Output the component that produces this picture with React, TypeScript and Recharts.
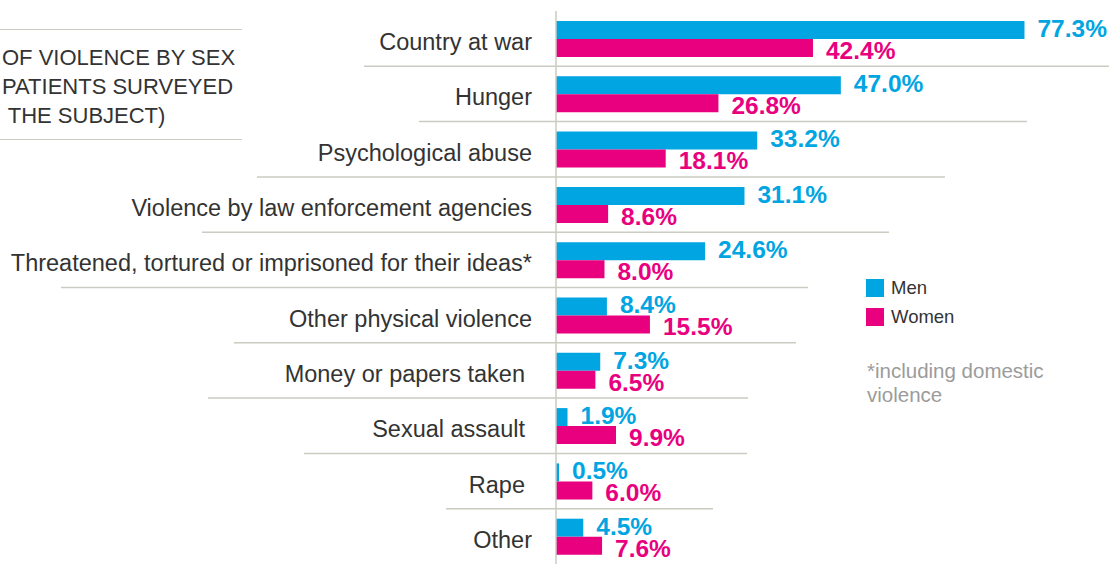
import { BarChart, Bar, XAxis, YAxis, LabelList, Legend } from 'recharts';

const categories = [
  'Country at war',
  'Hunger',
  'Psychological abuse',
  'Violence by law enforcement agencies',
  'Threatened, tortured or imprisoned for their ideas*',
  'Other physical violence',
  'Money or papers taken',
  'Sexual assault',
  'Rape',
  'Other',
];
const menValues = [77.3, 47.0, 33.2, 31.1, 24.6, 8.4, 7.3, 1.9, 0.5, 4.5];
const womenValues = [42.4, 26.8, 18.1, 8.6, 8.0, 15.5, 6.5, 9.9, 6.0, 7.6];
const seriesNames = ['Men', 'Women'];
const titleLines = ['OF VIOLENCE BY SEX', 'PATIENTS SURVEYED', ' THE SUBJECT)'];
const footnoteLines = ['*including domestic', 'violence'];

const chartData = categories.map((name, i) => ({
  name,
  Men: menValues[i],
  Women: womenValues[i],
}));

const BLUE = '#00a5e2';
const PINK = '#e9007f';
const RULE = '#cbcbc1';
const TEXT = '#333333';
const FONT = '"Liberation Sans", Arial, sans-serif';
const colors: Record<string, string> = { Men: BLUE, Women: PINK };
// small vertical nudge of the value labels against their bar
const labelShift: Record<string, number> = { Men: -2, Women: 2 };

// label right edge and the decorative rule under each row (page px)
const rowStyle = [
  { labelEnd: 532, rule: [364, 1109] },
  { labelEnd: 532, rule: [419, 1027] },
  { labelEnd: 532, rule: [257, 945] },
  { labelEnd: 532, rule: [202, 889] },
  { labelEnd: 532, rule: [61, 808] },
  { labelEnd: 532, rule: [234, 796] },
  { labelEnd: 525, rule: [208, 748] },
  { labelEnd: 525, rule: [304, 747] },
  { labelEnd: 525, rule: [446, 713] },
  { labelEnd: 532, rule: null },
];

function CategoryTick(props: any) {
  const { y, payload } = props;
  const idx = categories.indexOf(payload.value);
  const row = rowStyle[idx] || rowStyle[0];
  const half = payload.offset || 27.65;
  return (
    <g>
      <text
        x={row.labelEnd}
        y={y + 3}
        dy="0.36em"
        textAnchor="end"
        fill={TEXT}
        fontSize={23.5}
        fontFamily={FONT}
      >
        {payload.value}
      </text>
      {row.rule && (
        <line
          x1={row.rule[0]}
          x2={row.rule[1]}
          y1={y + half}
          y2={y + half}
          stroke={RULE}
          strokeWidth={1.5}
        />
      )}
    </g>
  );
}

const valueLabel = (series: string) => (props: any) => {
  const { x, y, width, height, value } = props;
  return (
    <text
      x={x + width + 13}
      y={y + height / 2 + labelShift[series]}
      dy="0.36em"
      fill={colors[series]}
      fontSize={24.5}
      fontWeight={700}
      fontFamily={FONT}
    >
      {Number(value).toFixed(1)}%
    </text>
  );
};

function LegendBox() {
  return (
    <div style={{ fontFamily: FONT }}>
      {seriesNames.map((s) => (
        <div key={s} style={{ display: 'flex', alignItems: 'center', height: 29 }}>
          <span style={{ width: 18, height: 18, background: colors[s], marginRight: 7 }} />
          <span style={{ fontSize: 18.5, color: TEXT }}>{s}</span>
        </div>
      ))}
    </div>
  );
}

export default function App() {
  return (
    <div
      style={{
        position: 'absolute',
        left: 0,
        top: 0,
        width: 1116,
        height: 564,
        overflow: 'hidden',
        background: '#fff',
        fontFamily: FONT,
      }}
    >
      <div style={{ position: 'absolute', left: 0, top: 29, width: 242, borderTop: `1.5px solid ${RULE}` }} />
      <div style={{ position: 'absolute', left: 0, top: 139, width: 242, borderTop: `1.5px solid ${RULE}` }} />
      <div style={{ position: 'absolute', left: 2, top: 43, fontSize: 22, lineHeight: '29px', color: TEXT, whiteSpace: 'pre' }}>
        {titleLines.map((t) => (
          <div key={t}>{t}</div>
        ))}
      </div>
      <div style={{ position: 'absolute', left: 867, top: 359, fontSize: 20.5, lineHeight: '24px', color: '#9b9b9b' }}>
        {footnoteLines.map((t) => (
          <div key={t}>{t}</div>
        ))}
      </div>

      <BarChart
        width={1116}
        height={566}
        data={chartData}
        layout="vertical"
        margin={{ top: 11, right: 0, bottom: 2, left: 0 }}
        barSize={18}
        barGap={0}
      >
        <XAxis type="number" hide domain={[0, 92.4]} />
        <YAxis
          type="category"
          dataKey="name"
          width={556}
          interval={0}
          tickLine={false}
          axisLine={{ stroke: RULE, strokeWidth: 1.5 }}
          tick={(p: any) => <CategoryTick {...p} />}
        />
        <Legend
          layout="horizontal"
          verticalAlign="middle"
          align="center"
          content={() => <LegendBox />}
          wrapperStyle={{ left: 866, top: 273, width: 'auto' }}
        />
        {seriesNames.map((s) => (
          <Bar key={s} dataKey={s} fill={colors[s]} isAnimationActive={false}>
            <LabelList dataKey={s} content={valueLabel(s)} />
          </Bar>
        ))}
      </BarChart>
    </div>
  );
}
